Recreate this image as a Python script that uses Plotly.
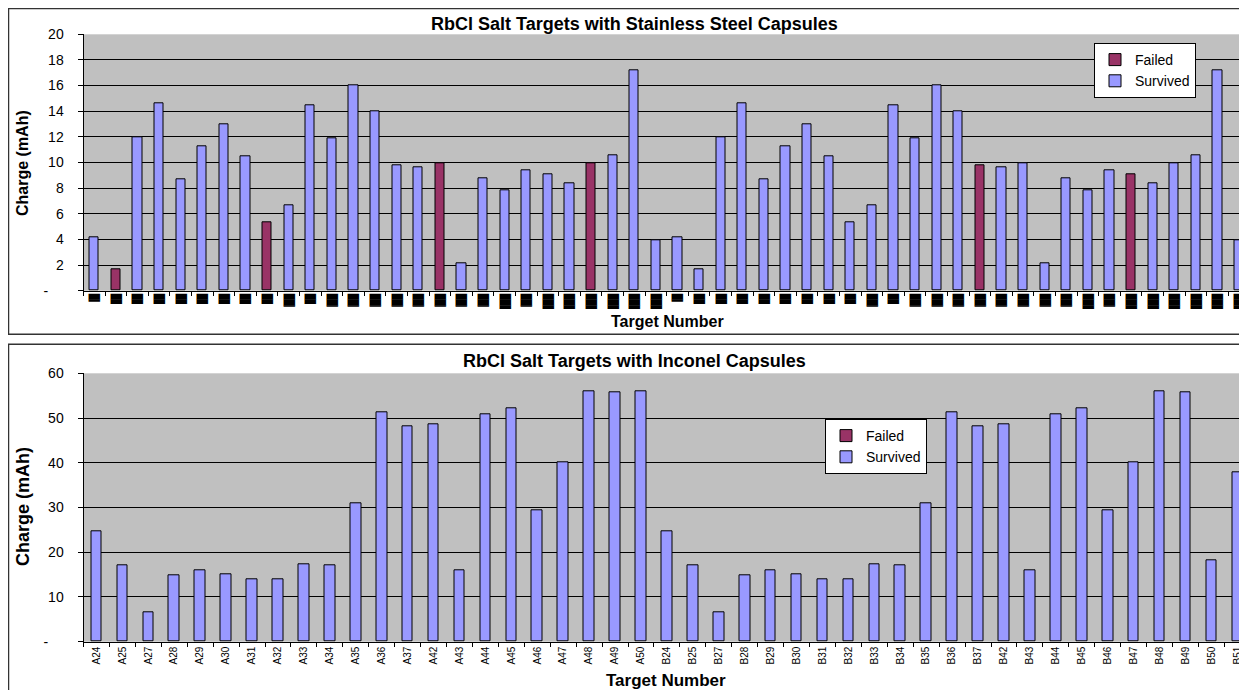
import plotly.graph_objects as go

# ---------------- data ----------------
top_targets = ["SS01", "SS02", "SS03", "SS04", "SS05", "SS06", "SS07", "SS08", "SS09",
               "SS10", "SS11", "SS12", "SS13", "SS14", "SS15", "SS16", "SS17", "SS18",
               "SS19", "SS20", "SS21", "SS22", "SS23", "SS24", "SS25", "SS26", "SS27",
               "SS28", "SS29", "SS30", "SS31", "SS32", "SS33", "SS34", "SS35", "SS36",
               "SS37", "SS38", "SS39", "SS40", "SS41", "SS42", "SS43", "SS44", "SS45",
               "SS46", "SS47", "SS48", "SS49", "SS50", "SS51", "SS52", "SS53", "SS54"]
top_charge = [4.2, 1.7, 12.0, 14.6, 8.7, 11.3, 13.0, 10.5, 5.3, 6.7, 14.5, 11.9, 16.0, 14.0,
              9.8, 9.6, 9.9, 2.1, 8.8, 7.8, 9.4, 9.1, 8.4, 9.9, 10.6, 17.2, 3.9,
              4.2, 1.7, 12.0, 14.6, 8.7, 11.3, 13.0, 10.5, 5.3, 6.7, 14.5, 11.9, 16.0, 14.0,
              9.8, 9.6, 9.9, 2.1, 8.8, 7.8, 9.4, 9.1, 8.4, 9.9, 10.6, 17.2, 3.9]
top_status = ["Survived", "Failed", "Survived", "Survived", "Survived", "Survived", "Survived",
              "Survived", "Failed", "Survived", "Survived", "Survived", "Survived", "Survived",
              "Survived", "Survived", "Failed", "Survived", "Survived", "Survived", "Survived",
              "Survived", "Survived", "Failed", "Survived", "Survived", "Survived",
              "Survived", "Survived", "Survived", "Survived", "Survived", "Survived", "Survived",
              "Survived", "Survived", "Survived", "Survived", "Survived", "Survived", "Survived",
              "Failed", "Survived", "Survived", "Survived", "Survived", "Survived", "Survived",
              "Failed", "Survived", "Survived", "Survived", "Survived", "Survived"]
# length class of the (blacked-out) tick labels in the top chart
top_label_class = ["S", "M", "M", "M", "M", "M", "M", "M", "M", "T", "M", "T", "T", "T",
                   "T", "T", "T", "T", "T", "X", "T", "X", "X", "X", "X", "X", "X",
                   "S", "M", "M", "M", "M", "M", "M", "M", "M", "T", "M", "T", "T", "T",
                   "T", "T", "T", "T", "T", "X", "T", "X", "X", "X", "X", "X", "X"]

bot_targets = ["A24", "A25", "A27", "A28", "A29", "A30", "A31", "A32", "A33", "A34", "A35",
               "A36", "A37", "A42", "A43", "A44", "A45", "A46", "A47", "A48", "A49", "A50",
               "B24", "B25", "B27", "B28", "B29", "B30", "B31", "B32", "B33", "B34", "B35",
               "B36", "B37", "B42", "B43", "B44", "B45", "B46", "B47", "B48", "B49", "B50", "B51"]
bot_charge = [24.7, 17.0, 6.6, 14.8, 15.9, 15.0, 14.0, 14.0, 17.2, 17.0, 31.0,
              51.3, 48.1, 48.7, 15.9, 50.8, 52.2, 29.3, 40.1, 56.0, 55.8, 56.0,
              24.7, 17.0, 6.6, 14.8, 15.9, 15.0, 14.0, 14.0, 17.2, 17.0, 31.0,
              51.3, 48.1, 48.7, 15.9, 50.8, 52.2, 29.3, 40.1, 56.0, 55.8, 18.3, 37.9]
bot_status = ["Survived"] * len(bot_targets)

top_yticks = [0, 2, 4, 6, 8, 10, 12, 14, 16, 18, 20]
top_yticktext = ["-\u00a0\u00a0\u00a0\u00a0", "2", "4", "6", "8", "10", "12", "14", "16", "18", "20"]
bot_yticks = [0, 10, 20, 30, 40, 50, 60]
bot_yticktext = ["-\u00a0\u00a0\u00a0\u00a0", "10", "20", "30", "40", "50", "60"]

# ---------------- styles ----------------
OFF = 8                      # page body margin
W, H = 1247 - OFF, 690 - OFF
FAILED = "#993366"
SURVIVED = "#9999FF"
FONT = "Liberation Sans"
block_glyph = {"S": "\u2588\u258D", "M": "\u2588\u258A", "T": "\u2588\u2588\u258E", "X": "\u2588\u2588\u258B"}

def px_x(v):
    return (v - OFF) / W

def px_y(v):
    return (H - (v - OFF)) / H

plot_left = 83.5
top_cat = 21.6
bot_cat = 25.93
top_range = [-0.5, -0.5 + (1247 - plot_left) / top_cat]
bot_range = [-0.5, -0.5 + (1247 - plot_left) / bot_cat]

fig = go.Figure()

def split(vals, status, key):
    return [v if s == key else None for v, s in zip(vals, status)]

fig.add_trace(go.Bar(x=top_targets, y=split(top_charge, top_status, "Failed"), name="Failed",
                     marker=dict(color=FAILED, line=dict(color="#000000", width=1)),
                     width=0.42, xaxis="x", yaxis="y", legend="legend"))
fig.add_trace(go.Bar(x=top_targets, y=split(top_charge, top_status, "Survived"), name="Survived",
                     marker=dict(color=SURVIVED, line=dict(color="#000000", width=1)),
                     width=0.42, xaxis="x", yaxis="y", legend="legend"))
fig.add_trace(go.Bar(x=bot_targets, y=split(bot_charge, bot_status, "Failed"), name="Failed",
                     marker=dict(color=FAILED, line=dict(color="#000000", width=1)),
                     width=0.41, xaxis="x2", yaxis="y2", legend="legend2"))
fig.add_trace(go.Bar(x=bot_targets, y=split(bot_charge, bot_status, "Survived"), name="Survived",
                     marker=dict(color=SURVIVED, line=dict(color="#000000", width=1)),
                     width=0.41, xaxis="x2", yaxis="y2", legend="legend2"))

common_x = dict(type="category", showgrid=False, showline=True, linecolor="#000000", linewidth=1,
                ticks="outside", ticklen=4, tickcolor="#000000", tickson="boundaries",
                zeroline=False)
common_y = dict(showgrid=True, gridcolor="#000000", gridwidth=1, showline=True,
                linecolor="#000000", linewidth=1, ticks="outside", ticklen=5,
                tickcolor="#000000", zeroline=False, ticklabelstandoff=11,
                tickfont=dict(family=FONT, size=14, color="#000000"))

fig.update_layout(
    width=W, height=H,
    margin=dict(l=0, r=0, t=0, b=0, autoexpand=False),
    paper_bgcolor="#FFFFFF", plot_bgcolor="#C0C0C0",
    barmode="overlay", bargap=0,
    font=dict(family=FONT, color="#000000"),
    xaxis=dict(common_x, domain=[px_x(plot_left), 1], anchor="y",
               categoryorder="array", categoryarray=top_targets, range=top_range,
               tickmode="array", tickvals=top_targets,
               ticktext=[block_glyph[c] for c in top_label_class], tickangle=90,
               tickfont=dict(family="DejaVu Sans Mono", size=9.7, color="#000000")),
    yaxis=dict(common_y, domain=[px_y(290.7), px_y(34.3)], anchor="x", range=[0, 20],
               tickmode="array", tickvals=top_yticks, ticktext=top_yticktext),
    xaxis2=dict(common_x, domain=[px_x(plot_left), 1], anchor="y2",
                categoryorder="array", categoryarray=bot_targets, range=bot_range,
                tickangle=-90, tickfont=dict(family=FONT, size=10, color="#000000")),
    yaxis2=dict(common_y, domain=[px_y(641.7), px_y(373.3)], anchor="x2", range=[0, 60],
                tickmode="array", tickvals=bot_yticks, ticktext=bot_yticktext),
    legend=dict(x=px_x(1094), y=px_y(43), xanchor="left", yanchor="top",
                bgcolor="#FFFFFF", bordercolor="#000000", borderwidth=1,
                font=dict(family=FONT, size=14, color="#000000"), itemwidth=30),
    legend2=dict(x=px_x(825), y=px_y(419), xanchor="left", yanchor="top",
                 bgcolor="#FFFFFF", bordercolor="#000000", borderwidth=1,
                 font=dict(family=FONT, size=14, color="#000000"), itemwidth=30),
    showlegend=True,
)

# chart-area frames
fig.add_shape(type="rect", xref="paper", yref="paper", x0=px_x(8.5), x1=1.05,
              y0=px_y(334.3), y1=px_y(8.5), line=dict(color="#333333", width=1.5), layer="below")
fig.add_shape(type="rect", xref="paper", yref="paper", x0=px_x(8.5), x1=1.05,
              y0=-0.05, y1=px_y(344.3), line=dict(color="#333333", width=1.5), layer="below")

# titles
ann = [
    dict(text="<b>RbCl Salt Targets with Stainless Steel Capsules</b>", x=px_x(635), y=px_y(24), size=18, angle=0),
    dict(text="<b>RbCl Salt Targets with Inconel Capsules</b>", x=px_x(635), y=px_y(361), size=18, angle=0),
    dict(text="<b>Charge (mAh)</b>", x=px_x(22), y=px_y(163), size=16, angle=-90),
    dict(text="<b>Charge (mAh)</b>", x=px_x(23), y=px_y(507), size=18, angle=-90),
    dict(text="<b>Target Number</b>", x=px_x(667), y=px_y(321), size=16, angle=0),
    dict(text="<b>Target Number</b>", x=px_x(666), y=px_y(680), size=17, angle=0),
]
for a in ann:
    fig.add_annotation(text=a["text"], x=a["x"], y=a["y"], xref="paper", yref="paper",
                       xanchor="center", yanchor="middle", showarrow=False, textangle=a["angle"],
                       font=dict(family=FONT, size=a["size"], color="#000000"))

fig.write_html("out.html")
